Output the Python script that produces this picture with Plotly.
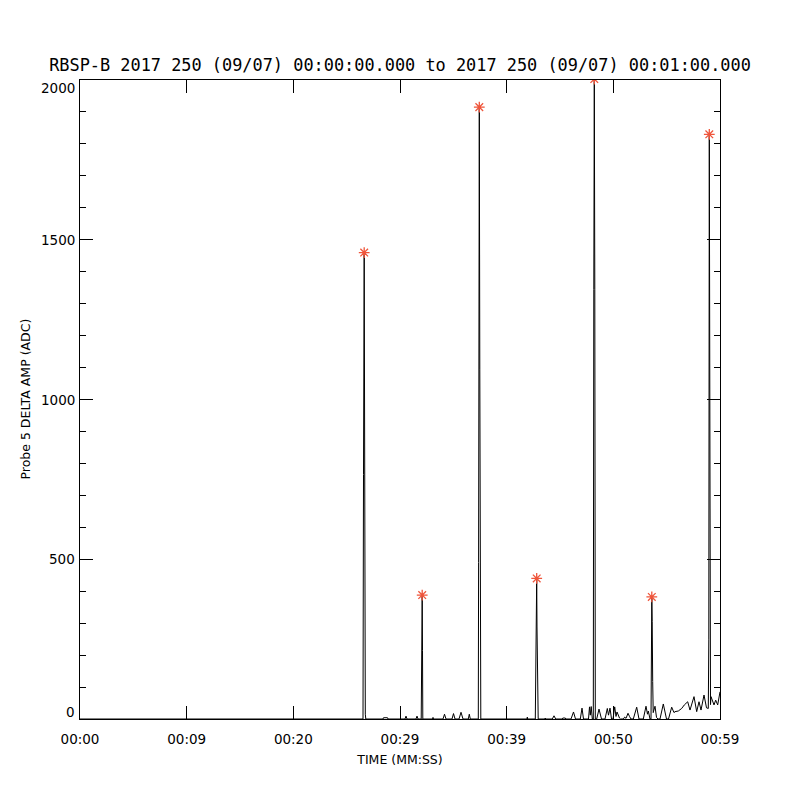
import numpy as np
import plotly.graph_objects as go

# ---- data (time in seconds after 00:00:00, amplitude in ADC) ----
TIME_S = [0.0,
          26.531, 26.578, 26.644, 26.747, 26.794,
          28.406, 28.453, 28.828, 28.875,
          30.469, 30.563, 30.656,
          31.500, 31.594, 31.688,
          31.988, 32.016, 32.081, 32.109, 32.138,
          33.047, 33.094, 33.141,
          34.031, 34.172, 34.313,
          34.875, 35.016, 35.156,
          35.531, 35.719, 35.906,
          36.403, 36.497, 36.591,
          37.341, 37.369, 37.434, 37.481, 37.547, 37.575,
          41.906, 41.934, 41.972,
          42.684, 42.713, 42.816, 42.844, 42.919, 42.956,
          43.566, 43.613, 43.659,
          44.278, 44.438, 44.597,
          45.216, 45.263, 45.497, 45.544,
          46.031, 46.266, 46.453,
          46.903, 47.063, 47.203,
          47.672, 47.766, 47.841, 47.925, 48.028,
          48.122, 48.169, 48.216, 48.263, 48.309,
          48.441, 48.656, 48.891,
          49.219, 49.434, 49.547, 49.688, 49.828,
          49.969, 50.128, 50.250, 50.344, 50.578, 50.672,
          50.934, 51.066, 51.188, 51.375, 51.516, 51.656,
          51.872, 52.191, 52.406,
          52.809, 53.063, 53.203, 53.278, 53.438,
          53.531, 53.559, 53.606, 53.644, 53.691, 53.738, 53.906, 54.047, 54.188,
          54.375, 54.684, 54.984,
          55.172, 55.472, 55.688, 55.781, 56.091, 56.409, 56.653, 56.972,
          57.188, 57.563, 57.816, 58.031, 58.219, 58.500, 58.734,
          58.903, 58.950, 58.997, 59.044, 59.109, 59.156,
          59.438, 59.597, 59.784, 60.0]

AMP = [0,
       0, 765, 1460, 15, 0,
       0, 4, 4, 0,
       0, 9, 0,
       0, 9, 0,
       0, 307, 388, 214, 0,
       0, 5, 0,
       0, 15, 0,
       0, 17, 0,
       0, 21, 0,
       0, 15, 0,
       0, 490, 1915, 1095, 138, 0,
       0, 6, 0,
       0, 70, 440, 288, 65, 0,
       0, 3, 0,
       0, 10, 0,
       0, 3, 3, 0,
       0, 22, 0,
       0, 34, 0,
       0, 38, 12, 39, 0,
       0, 1345, 2003, 1345, 0,
       0, 31, 0,
       0, 33, 12, 34, 0,
       0, 38, 8, 22, 3, 0,
       0, 6, 2, 18, 8, 0,
       0, 37, 0,
       0, 40, 15, 25, 0,
       0, 116, 382, 305, 117, 20, 40, 5, 0,
       0, 47, 0,
       0, 37, 20, 23, 25, 33, 44, 54,
       28, 70, 23, 54, 28, 75, 35,
       33, 250, 1830, 1036, 45, 70,
       44, 59, 44, 85]

X_TICK_VALS = [0, 10, 20, 30, 40, 50, 60]
X_TICK_TEXT = ["00:00", "00:09", "00:20", "00:29", "00:39", "00:50", "00:59"]
Y_TICK_VALS = [0, 500, 1000, 1500, 2000]
Y_TICK_TEXT = ["0", "500", "1000", "1500", "2000"]

TITLE = "RBSP-B 2017 250 (09/07) 00:00:00.000 to 2017 250 (09/07) 00:01:00.000"
X_TITLE = "TIME (MM:SS)"
Y_TITLE = "Probe 5 DELTA AMP (ADC)"

Y_MIN, Y_MAX = 0, 2000

# peaks: local maxima above 300 ADC
t = np.array(TIME_S)
a = np.array(AMP, dtype=float)
idx = [i for i in range(1, len(a) - 1) if a[i] > 300 and a[i] > a[i - 1] and a[i] > a[i + 1]]
peak_t = t[idx]
peak_a = a[idx]

fig = go.Figure()
fig.add_trace(go.Scatter(x=TIME_S, y=AMP, mode="lines",
                         line=dict(color="black", width=1), showlegend=False,
                         hoverinfo="skip"))
fig.add_trace(go.Scatter(x=peak_t, y=peak_a, mode="markers",
                         marker=dict(symbol="asterisk-open", size=9,
                                     line=dict(color="#ff0000", width=1.3)),
                         showlegend=False, cliponaxis=True))

axis_font = dict(family="DejaVu Sans", size=13.5, color="black")

# y tick labels as annotations (IDL-style: end labels kept inside the axis span)
for val, txt in zip(Y_TICK_VALS, Y_TICK_TEXT):
    if val == Y_MAX:
        anchor, shift = "top", 2
    elif val == Y_MIN:
        anchor, shift = "bottom", -3
    else:
        anchor, shift = "middle", 0
    fig.add_annotation(x=0, xref="paper", y=val, yref="y", text=txt, showarrow=False,
                       xanchor="right", yanchor=anchor, xshift=-3, yshift=shift,
                       font=axis_font)

fig.add_annotation(x=0, xref="paper", y=0.5, yref="paper", text=Y_TITLE, showarrow=False,
                   textangle=-90, xanchor="center", yanchor="middle", xshift=-55,
                   font=dict(family="DejaVu Sans", size=12.5, color="black"))

fig.update_layout(
    width=800, height=800,
    margin=dict(l=72, r=88, t=72, b=89, pad=0),
    paper_bgcolor="white", plot_bgcolor="white",
    title=dict(text=TITLE, x=(400 - 8) / 800, xanchor="center", y=1 - 57 / 800, yanchor="middle",
               font=dict(family="DejaVu Sans Mono", size=16.9, color="black")),
    xaxis=dict(range=[0, 60], tickvals=X_TICK_VALS, ticktext=X_TICK_TEXT,
               ticks="inside", ticklen=13, tickwidth=1, tickcolor="black",
               showline=True, linecolor="black", linewidth=1, mirror="ticks",
               showgrid=False, zeroline=False, tickfont=axis_font,
               ticklabelstandoff=8,
               title=dict(text=X_TITLE, font=dict(family="DejaVu Sans", size=12.5, color="black"),
                          standoff=9)),
    yaxis=dict(range=[Y_MIN, Y_MAX], tickvals=Y_TICK_VALS, showticklabels=False,
               ticks="inside", ticklen=13, tickwidth=1, tickcolor="black",
               minor=dict(ticks="inside", ticklen=6, dtick=100, tickcolor="black", tickwidth=1,
                          showgrid=False),
               showline=True, linecolor="black", linewidth=1, mirror="ticks",
               showgrid=False, zeroline=False),
)

fig.write_html("out.html")
